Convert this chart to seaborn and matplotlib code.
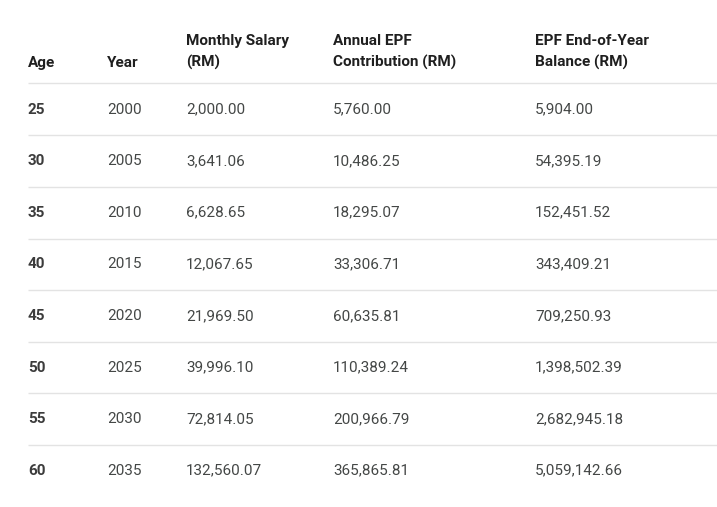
import matplotlib
matplotlib.use("Agg")
import matplotlib.pyplot as plt
import seaborn as sns

headers = ["Age", "Year", "Monthly Salary\n(RM)", "Annual EPF\nContribution (RM)", "EPF End-of-Year\nBalance (RM)"]
ages = ["25", "30", "35", "40", "45", "50", "55", "60"]
years = ["2000", "2005", "2010", "2015", "2020", "2025", "2030", "2035"]
salary = ["2,000.00", "3,641.06", "6,628.65", "12,067.65", "21,969.50", "39,996.10", "72,814.05", "132,560.07"]
contrib = ["5,760.00", "10,486.25", "18,295.07", "33,306.71", "60,635.81", "110,389.24", "200,966.79", "365,865.81"]
balance = ["5,904.00", "54,395.19", "152,451.52", "343,409.21", "709,250.93", "1,398,502.39", "2,682,945.18", "5,059,142.66"]

sns.set_theme(style="white")
plt.rcParams['font.family'] = ['Roboto', 'DejaVu Sans']

fig = plt.figure(figsize=(7.17, 5.07), dpi=100)
ax = fig.add_axes([0, 0, 1, 1])
ax.set_xlim(0, 717)
ax.set_ylim(507, 0)
ax.axis("off")

col_x = [28, 107, 186, 333, 535]
color = "#1f1f1f"
for x, h in zip(col_x, headers):
    ax.text(x, 67, h, ha="left", va="baseline", fontsize=11, fontweight="semibold",
            color=color, linespacing=1.6)

row_y0, step = 109.5, 51.6
ax.hlines(83, 28, 717, color="#e3e3e3", lw=1)
cols = [ages, years, salary, contrib, balance]
for i in range(len(ages)):
    y = row_y0 + i * step
    for j, (x, c) in enumerate(zip(col_x, cols)):
        ax.text(x, y + 4, c[i], ha="left", va="baseline", fontsize=11,
                fontweight="bold" if j == 0 else "normal",
                color="#3c3c3c" if j == 0 else "#444746")
    if i < len(ages) - 1:
        ax.hlines(y + step / 2, 28, 717, color="#e3e3e3", lw=1)

fig.savefig("out.png", dpi=100, facecolor="white")
